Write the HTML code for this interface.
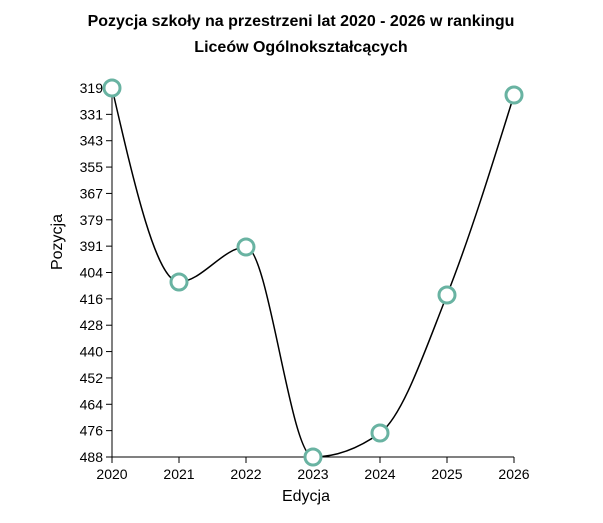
<!DOCTYPE html>
<html><head><meta charset="utf-8"><style>
body{margin:0;background:#fff;}
text{font-family:"Liberation Sans",sans-serif;}
</style></head><body>
<svg id="s" width="603" height="518" xmlns="http://www.w3.org/2000/svg">
<text x="301" y="26" text-anchor="middle" font-size="16" font-weight="bold">Pozycja szkoły na przestrzeni lat 2020 - 2026 w rankingu</text>
<text x="301" y="52" text-anchor="middle" font-size="16" font-weight="bold">Liceów Ogólnokształcących</text>
<text x="306" y="501" text-anchor="middle" font-size="16">Edycja</text>
<text transform="translate(62,242) rotate(-90)" text-anchor="middle" font-size="16">Pozycja</text>
<g id="ax" font-size="14" fill="#000"></g>
<path id="ln" fill="none" stroke="#000" stroke-width="1.5"/>
<g id="pts"></g>
</svg>
<script>
var ns="http://www.w3.org/2000/svg",ax=document.getElementById('ax');
function el(t,a,p){var e=document.createElementNS(ns,t);for(var k in a)e.setAttribute(k,a[k]);(p||ax).appendChild(e);return e;}
el('line',{x1:112,y1:88,x2:112,y2:457,stroke:'#000'});
el('line',{x1:112,y1:457,x2:514,y2:457,stroke:'#000'});
var yl=[319,331,343,355,367,379,391,404,416,428,440,452,464,476,488];
yl.forEach(function(v,i){var y=88+i*369/14;el('line',{x1:106,y1:y,x2:112,y2:y,stroke:'#000'});var t=el('text',{x:103,y:y+5,'text-anchor':'end'});t.textContent=v;});
for(var i=0;i<7;i++){var x=112+i*67;el('line',{x1:x,y1:457,x2:x,y2:463,stroke:'#000'});var t=el('text',{x:x,y:479,'text-anchor':'middle'});t.textContent=2020+i;}
var P=[[112,88],[179,282],[246,247],[313,457],[380,433],[447,295],[514,95]];
// monotoneX
var n=P.length,d=[],m=[];
for(i=0;i<n-1;i++)d.push((P[i+1][1]-P[i][1])/(P[i+1][0]-P[i][0]));
for(i=1;i<n-1;i++){if(d[i-1]*d[i]<=0)m[i]=0;else{var h0=67,h1=67,p=(d[i-1]*h1+d[i]*h0)/(h0+h1);m[i]=(Math.sign(d[i-1])+Math.sign(d[i]))*Math.min(Math.abs(d[i-1]),Math.abs(d[i]),0.5*Math.abs(p));}}
m[0]=(3*d[0]-m[1])/2;m[n-1]=(3*d[n-2]-m[n-2])/2;
var s="M"+P[0][0]+","+P[0][1];
for(i=0;i<n-1;i++){var dx=(P[i+1][0]-P[i][0])/3;s+="C"+(P[i][0]+dx)+","+(P[i][1]+dx*m[i])+","+(P[i+1][0]-dx)+","+(P[i+1][1]-dx*m[i+1])+","+P[i+1][0]+","+P[i+1][1];}
document.getElementById('ln').setAttribute('d',s);
var g=document.getElementById('pts');
P.forEach(function(p){el('circle',{cx:p[0],cy:p[1],r:8,fill:'#fff',stroke:'#69b3a2','stroke-width':3},g);});
</script>
</body></html>
